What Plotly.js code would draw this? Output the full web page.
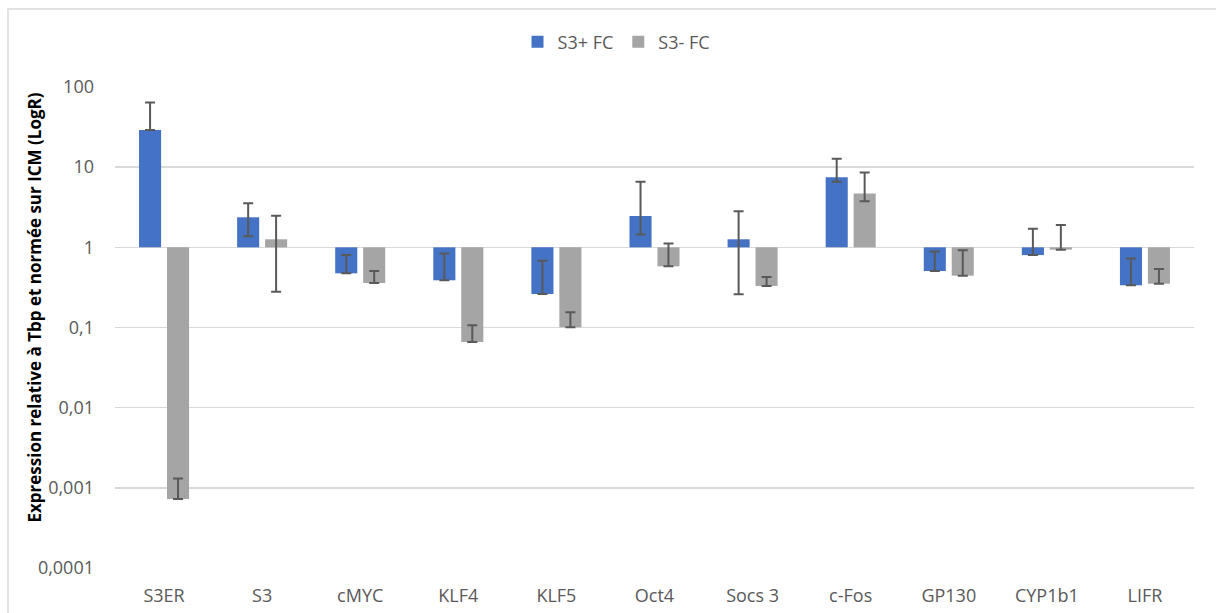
<!DOCTYPE html>
<html>
<head>
<meta charset="utf-8">
<script src="https://cdn.plot.ly/plotly-3.0.1.min.js"></script>
<style>
html,body{margin:0;padding:0;background:#fff;}
#chart{width:1216px;height:613px;}
</style>
</head>
<body>
<div id="chart"></div>
<script>
// ---- data ----
var categories = ['S3ER', 'S3', 'cMYC', 'KLF4', 'KLF5', 'Oct4', 'Socs 3', 'c-Fos', 'GP130', 'CYP1b1', 'LIFR'];

var s3PlusValues    = [29.0, 2.37, 0.474, 0.388, 0.262, 2.46, 1.26, 7.46, 0.507, 0.80, 0.336];
var s3PlusErrPlus   = [35.3, 1.17, 0.33, 0.45, 0.42, 4.13, 1.55, 5.3, 0.38, 0.91, 0.39];
var s3PlusErrMinus  = [0, 1.0, 0, 0, 0, 1.01, 1.0, 0.86, 0, 0, 0];

var s3MinusValues   = [0.000727, 1.26, 0.359, 0.066, 0.1005, 0.58, 0.33, 4.71, 0.443, 0.936, 0.352];
var s3MinusErrPlus  = [0.00058, 1.22, 0.148, 0.041, 0.055, 0.54, 0.097, 3.9, 0.475, 0.96, 0.185];
var s3MinusErrMinus = [0, 0.98, 0, 0, 0, 0, 0, 0.96, 0, 0, 0];

var yTickVals = [0.0001, 0.001, 0.01, 0.1, 1, 10, 100];
var yTickText = ['0,0001', '0,001', '0,01', '0,1', '1', '10', '100'];

var seriesNames = ['S3+ FC', 'S3- FC'];
var yTitle = 'Expression relative à Tbp et normée sur ICM (LogR)';
var baseline = 1; // the category axis crosses the value axis at 1

// bars are drawn from the baseline (1) to each value
function fromBaseline(arr) { return arr.map(function (v) { return v - baseline; }); }

var errStyle = {color: '#595959', thickness: 2, width: 5};

var traces = [
  {
    type: 'bar', name: seriesNames[0], x: categories,
    y: fromBaseline(s3PlusValues), base: baseline,
    marker: {color: '#4472C4'},
    error_y: Object.assign({type: 'data', symmetric: false, array: s3PlusErrPlus, arrayminus: s3PlusErrMinus}, errStyle),
    hoverinfo: 'skip'
  },
  {
    type: 'bar', name: seriesNames[1], x: categories,
    y: fromBaseline(s3MinusValues), base: baseline,
    marker: {color: '#A5A5A5'},
    error_y: Object.assign({type: 'data', symmetric: false, array: s3MinusErrPlus, arrayminus: s3MinusErrMinus}, errStyle),
    hoverinfo: 'skip'
  }
];

var tickFont = {family: 'Open Sans, sans-serif', size: 18, color: '#595959'};

var layout = {
  width: 1216, height: 613,
  margin: {l: 115, r: 22, t: 87, b: 45, pad: 0},
  paper_bgcolor: '#ffffff', plot_bgcolor: '#ffffff',
  barmode: 'group', bargap: 0.43, bargroupgap: 0.21,
  showlegend: true,
  legend: {
    orientation: 'h', xref: 'container', yref: 'container',
    x: 0.507, xanchor: 'center', y: 0.9315, yanchor: 'middle',
    font: {family: 'Open Sans, sans-serif', size: 18, color: '#595959'},
    itemclick: false, itemdoubleclick: false
  },
  xaxis: {
    type: 'category', tickfont: tickFont, showgrid: false, zeroline: false,
    showline: false, ticks: '', ticklabelstandoff: 15, fixedrange: true
  },
  yaxis: {
    type: 'log', range: [-4, 2], tickvals: yTickVals, ticktext: yTickText,
    tickfont: tickFont, showgrid: true, gridcolor: '#D9D9D9', gridwidth: 1.5,
    zeroline: false, showline: false, ticks: '', ticklabelstandoff: 20,
    fixedrange: true
  },
  annotations: [{
    text: yTitle, textangle: -90, showarrow: false,
    xref: 'paper', yref: 'paper',
    x: (34 - 115) / 1079, y: (568 - 307.5) / 481,
    xanchor: 'center', yanchor: 'middle',
    font: {family: 'Open Sans, sans-serif', size: 17, color: '#000000', weight: 'bold'}
  }],
  shapes: [{
    type: 'rect', xref: 'paper', yref: 'paper',
    x0: (8 - 115) / 1079, x1: 1.1, y0: -0.2, y1: (568 - 9) / 481,
    line: {color: '#D9D9D9', width: 1.5}, fillcolor: 'rgba(0,0,0,0)', layer: 'below'
  }]
};

Plotly.newPlot('chart', traces, layout, {displayModeBar: false, staticPlot: true});
</script>
</body>
</html>
